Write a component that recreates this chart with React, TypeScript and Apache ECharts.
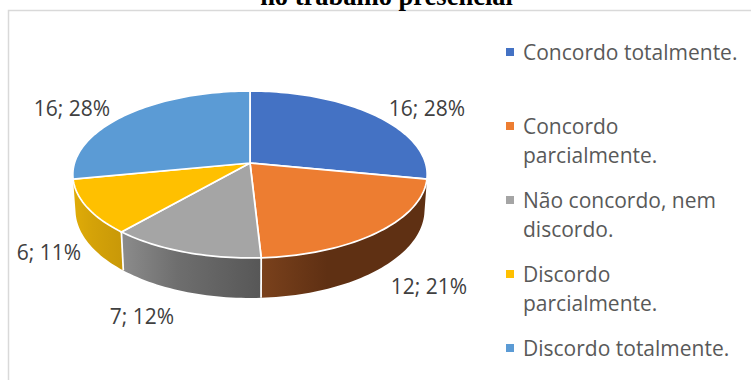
import React, { useEffect, useRef } from "react";
import * as echarts from "echarts";

const categories = ["Concordo totalmente.", "Concordo\nparcialmente.", "Não concordo, nem\ndiscordo.", "Discordo\nparcialmente.", "Discordo totalmente."];
const values = [16, 12, 7, 6, 16];
const percents = [28, 21, 12, 11, 28];
const colors = ["#4472C4", "#ED7D31", "#A5A5A5", "#FFC000", "#5B9BD5"];
const sideStops = [["#2f5597", "#2f5597", "#2f5597"], ["#7a411c", "#5f3013", "#5f3013"], ["#8c8c8c", "#6e6e6e", "#575757"], ["#e0ac08", "#d4a208", "#c89808"], ["#3f78ad", "#3f78ad", "#3f78ad"]];
const titleText = "no trabalho presencial";
const labelPos = [[427, 108], [429, 286], [142, 316], [49, 252], [72, 108]];

const CX = 250, CY = 163, R = 175.5, B = 81.9, K = 0.1377, D = 34.5, RIM = 0.985;
const total = values.reduce((a, b) => a + b, 0);
const toRad = (v: number) => (v / total) * Math.PI * 2;

function topPt(t: number) {
  const u = Math.sin(t), v = Math.cos(t), d = 1 + K * v;
  return [CX + (R * u) / d, CY - (B * v) / d];
}
function botPt(t: number) {
  const u = Math.sin(t), v = Math.cos(t), d = 1 + K * v;
  return [CX + (RIM * R * u) / d, CY - (B * v) / d + D / d];
}
function arc(f: (t: number) => number[], a: number, b: number) {
  const n = Math.max(2, Math.ceil(Math.abs(b - a) * 40));
  const out: number[][] = [];
  for (let i = 0; i <= n; i++) out.push(f(a + ((b - a) * i) / n));
  return out;
}
function span(i: number) {
  const s = values.slice(0, i).reduce((a, b) => a + b, 0);
  return [toRad(s), toRad(s + values[i])];
}

export default function App() {
  const ref = useRef<HTMLDivElement>(null);
  useEffect(() => {
    const chart = echarts.init(ref.current!, null, { renderer: "svg" });
    const renderSide = (p: any) => {
      const i = p.dataIndex;
      const [a, b] = span(i);
      const mid = (a + b) / 2;
      if (Math.cos(mid) > 0) return { type: "group", children: [] };
      const top = arc(topPt, a, b), bot = arc(botPt, b, a);
      const xs = top.concat(bot).map((q) => q[0]);
      const x0 = Math.min(...xs), x1 = Math.max(...xs);
      const children: any[] = [
        {
          type: "polygon",
          shape: { points: top.concat(bot) },
          style: {
            fill: new echarts.graphic.LinearGradient(x0, 0, x1, 0, [
              { offset: 0, color: sideStops[i][0] },
              { offset: 0.4, color: sideStops[i][1] },
              { offset: 1, color: sideStops[i][2] },
            ], true),
          },
        },
      ];
      return { type: "group", children };
    };
    const renderDivider = (p: any) => {
      const i = p.dataIndex;
      const [a] = span(i);
      if (Math.cos(a) > -0.5) return { type: "group", children: [] };
      const s = topPt(a), e = botPt(a);
      return {
        type: "line",
        shape: { x1: s[0], y1: s[1], x2: e[0], y2: e[1] },
        style: { stroke: "#ffffff", lineWidth: 1.75 },
      };
    };
    const renderTop = (p: any) => {
      const i = p.dataIndex;
      const [a, b] = span(i);
      return {
        type: "polygon",
        shape: { points: [[CX, CY]].concat(arc(topPt, a, b)) },
        style: { fill: colors[i], stroke: "#ffffff", lineWidth: 1.75 },
      };
    };
    const renderLabel = (p: any) => {
      const i = p.dataIndex;
      return {
        type: "text",
        x: labelPos[i][0],
        y: labelPos[i][1],
        style: {
          text: `${values[i]}; ${percents[i]}%`,
          fill: "#404040",
          font: '21px "Open Sans"',
          align: "center",
          verticalAlign: "middle",
        },
      };
    };
    const legendEls: any[] = [];
    categories.forEach((c, i) => {
      const y = 52 + 74 * i;
      legendEls.push({ type: "rect", shape: { x: 506, y: y - 4, width: 8, height: 8 }, style: { fill: colors[i] } });
      legendEls.push({
        type: "text",
        x: 523,
        y: y - 15,
        style: { text: c, fill: "#595959", font: '21px "Open Sans"', lineHeight: 29, align: "left", verticalAlign: "top" },
      });
    });
    chart.setOption({
      animation: false,
      graphic: [
        { type: "rect", shape: { x: 8.5, y: 10.5, width: 800, height: 500 }, style: { fill: "#fff", stroke: "#D9D9D9", lineWidth: 1.5 }, z: -1 },
        { type: "text", x: 386.5, y: -4, z: 10, style: { text: titleText, fill: "#000", font: 'bold 26.5px "Liberation Serif"', align: "center", verticalAlign: "middle" } },
        ...legendEls,
      ],
      series: [
        { type: "custom", coordinateSystem: "none", silent: true, data: values, renderItem: renderSide, z: 2 },
        { type: "custom", coordinateSystem: "none", silent: true, data: values, renderItem: renderDivider, z: 2.5 },
        { type: "custom", coordinateSystem: "none", silent: true, data: values, renderItem: renderTop, z: 3 },
        { type: "custom", coordinateSystem: "none", silent: true, data: values, renderItem: renderLabel, z: 4 },
      ],
    });
    return () => chart.dispose();
  }, []);
  return <div ref={ref} style={{ position: "absolute", left: 0, top: 0, width: 751, height: 380 }} />;
}
